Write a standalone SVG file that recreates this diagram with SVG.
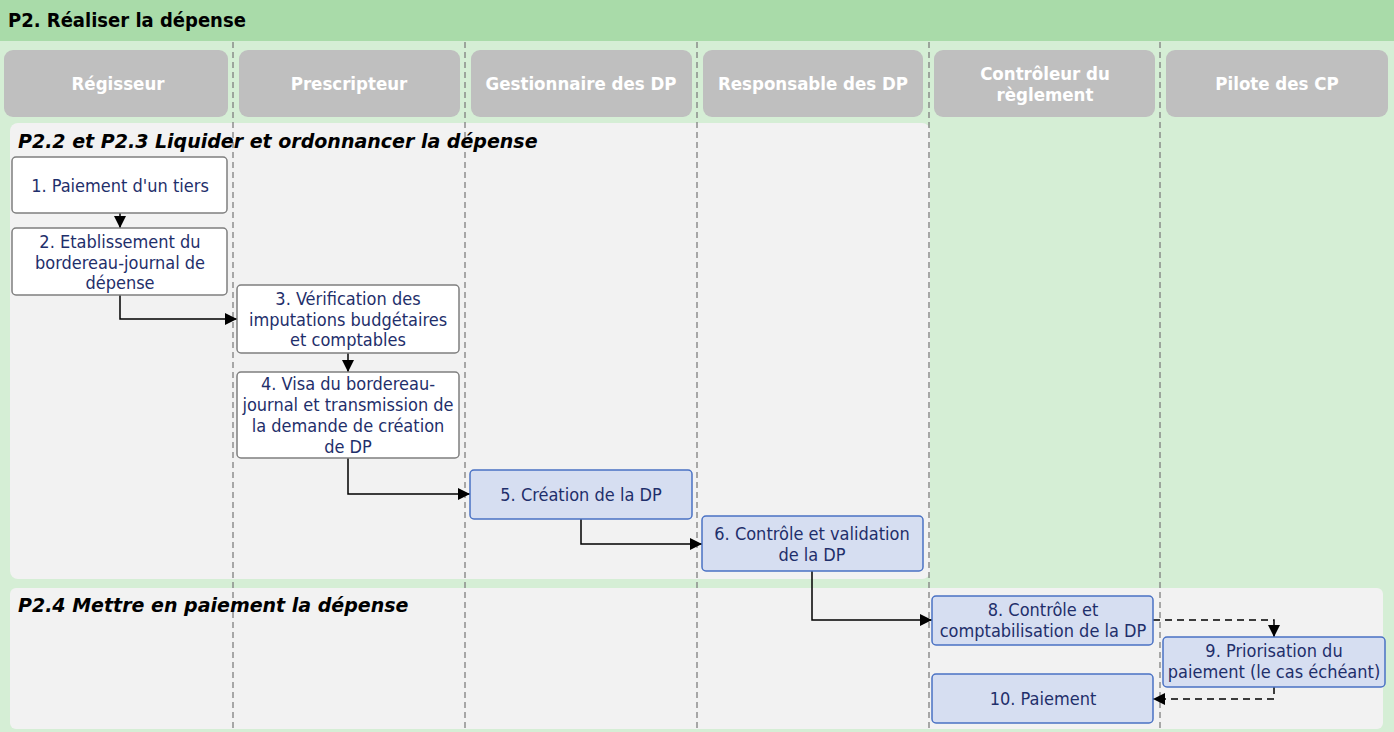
<svg xmlns="http://www.w3.org/2000/svg" width="1394" height="732" viewBox="0 0 1394 732">
  <defs>
    <marker id="arr" viewBox="0 0 12 12" refX="12" refY="6" markerWidth="12" markerHeight="12" markerUnits="userSpaceOnUse" orient="auto">
      <path d="M0,0 L12,6 L0,12 z" fill="#000"/>
    </marker>
    <style>
      .title { font-family: "DejaVu Sans Condensed", "DejaVu Sans", sans-serif; font-weight: bold; font-size: 20px; fill: #000; }
      .lane { fill: #BFBFBF; }
      .laneText { font-family: "DejaVu Sans Condensed", "DejaVu Sans", sans-serif; font-weight: bold; font-size: 18.5px; fill: #fff; text-anchor: middle; }
      .divider { stroke: #7F7F7F; stroke-width: 1.3; stroke-dasharray: 6 4; fill: none; }
      .panel { fill: #F2F2F2; }
      .section { font-family: "DejaVu Sans", sans-serif; font-weight: bold; font-style: italic; font-size: 19px; fill: #000; }
      .n-white { fill: #fff; stroke: #7F7F7F; stroke-width: 1.5; }
      .n-blue { fill: #D6DEF1; stroke: #4A72C4; stroke-width: 1.5; }
      .label { font-family: "DejaVu Sans Condensed", "DejaVu Sans", sans-serif; font-size: 18px; fill: #1F2F6B; text-anchor: middle; }
      .flow { stroke: #000; stroke-width: 1.5; fill: none; }
      .flow.opt { stroke-dasharray: 7 5; }
    </style>
  </defs>

  <!-- background and title band -->
  <rect x="0" y="0" width="1394" height="732" fill="#D5EED5"/>
  <rect x="0" y="0" width="1394" height="41" fill="#A9DBA9"/>
  <text class="title" x="8" y="27">P2. Réaliser la dépense</text>

  <!-- swimlane headers -->
  <g id="lanes">
    <rect class="lane" x="4" y="50" width="224" height="67" rx="9"/>
    <text class="laneText" x="118" y="90">Régisseur</text>
    <rect class="lane" x="239" y="50" width="221" height="67" rx="9"/>
    <text class="laneText" x="349" y="90">Prescripteur</text>
    <rect class="lane" x="471" y="50" width="221" height="67" rx="9"/>
    <text class="laneText" x="581" y="90">Gestionnaire des DP</text>
    <rect class="lane" x="703" y="50" width="220" height="67" rx="9"/>
    <text class="laneText" x="813" y="90">Responsable des DP</text>
    <rect class="lane" x="934" y="50" width="221" height="67" rx="9"/>
    <text class="laneText" x="1045" y="80">Contrôleur du</text>
    <text class="laneText" x="1045" y="101">règlement</text>
    <rect class="lane" x="1166" y="50" width="222" height="67" rx="9"/>
    <text class="laneText" x="1277" y="90">Pilote des CP</text>
  </g>

  <!-- phase panels -->
  <g id="phases">
    <rect class="panel" x="10" y="123" width="920" height="456" rx="8"/>
    <rect class="panel" x="10" y="588" width="1373" height="141" rx="6"/>
  </g>

  <!-- lane dividers -->
  <g id="dividers">
    <line class="divider" x1="233" y1="42" x2="233" y2="732"/>
    <line class="divider" x1="465" y1="42" x2="465" y2="732"/>
    <line class="divider" x1="697" y1="42" x2="697" y2="732"/>
    <line class="divider" x1="929" y1="42" x2="929" y2="732"/>
    <line class="divider" x1="1160" y1="42" x2="1160" y2="732"/>
  </g>

  <text class="section" x="18" y="148">P2.2 et P2.3 Liquider et ordonnancer la dépense</text>
  <text class="section" x="18" y="612">P2.4 Mettre en paiement la dépense</text>

  <!-- connectors -->
  <g id="connectors">
    <path class="flow" d="M120,213 L120,228" marker-end="url(#arr)"/>
    <path class="flow" d="M120,295 L120,319 L237,319" marker-end="url(#arr)"/>
    <path class="flow" d="M348,353 L348,372" marker-end="url(#arr)"/>
    <path class="flow" d="M348,458 L348,494 L470,494" marker-end="url(#arr)"/>
    <path class="flow" d="M581,519 L581,544 L702,544" marker-end="url(#arr)"/>
    <path class="flow" d="M812,571 L812,620 L932,620" marker-end="url(#arr)"/>
    <path class="flow opt" d="M1153,620 L1274,620 L1274,637" marker-end="url(#arr)"/>
    <path class="flow opt" d="M1274,687 L1274,699 L1153,699" marker-end="url(#arr)"/>
  </g>

  <!-- process steps -->
  <g id="step1">
    <rect class="n-white" x="12" y="157" width="215" height="56" rx="4"/>
    <text class="label" x="120" y="192">1. Paiement d'un tiers</text>
  </g>
  <g id="step2">
    <rect class="n-white" x="12" y="228" width="215" height="67" rx="4"/>
    <text class="label" x="120" y="248">2. Etablissement du</text>
    <text class="label" x="120" y="268.5">bordereau-journal de</text>
    <text class="label" x="120" y="289">dépense</text>
  </g>
  <g id="step3">
    <rect class="n-white" x="237" y="285" width="222" height="68" rx="4"/>
    <text class="label" x="348" y="305">3. Vérification des</text>
    <text class="label" x="348" y="325.5">imputations budgétaires</text>
    <text class="label" x="348" y="346">et comptables</text>
  </g>
  <g id="step4">
    <rect class="n-white" x="237" y="372" width="222" height="86" rx="4"/>
    <text class="label" x="348" y="390">4. Visa du bordereau-</text>
    <text class="label" x="348" y="411">journal et transmission de</text>
    <text class="label" x="348" y="432">la demande de création</text>
    <text class="label" x="348" y="453">de DP</text>
  </g>
  <g id="step5">
    <rect class="n-blue" x="470" y="470" width="222" height="49" rx="4"/>
    <text class="label" x="581" y="501">5. Création de la DP</text>
  </g>
  <g id="step6">
    <rect class="n-blue" x="702" y="516" width="221" height="55" rx="4"/>
    <text class="label" x="812" y="540">6. Contrôle et validation</text>
    <text class="label" x="812" y="561">de la DP</text>
  </g>
  <g id="step8">
    <rect class="n-blue" x="932" y="596" width="221" height="49" rx="4"/>
    <text class="label" x="1043" y="616">8. Contrôle et</text>
    <text class="label" x="1043" y="637">comptabilisation de la DP</text>
  </g>
  <g id="step9">
    <rect class="n-blue" x="1163" y="637" width="222" height="50" rx="4"/>
    <text class="label" x="1274" y="657">9. Priorisation du</text>
    <text class="label" x="1274" y="677.5">paiement (le cas échéant)</text>
  </g>
  <g id="step10">
    <rect class="n-blue" x="932" y="674" width="221" height="49" rx="4"/>
    <text class="label" x="1043" y="705">10. Paiement</text>
  </g>
</svg>
